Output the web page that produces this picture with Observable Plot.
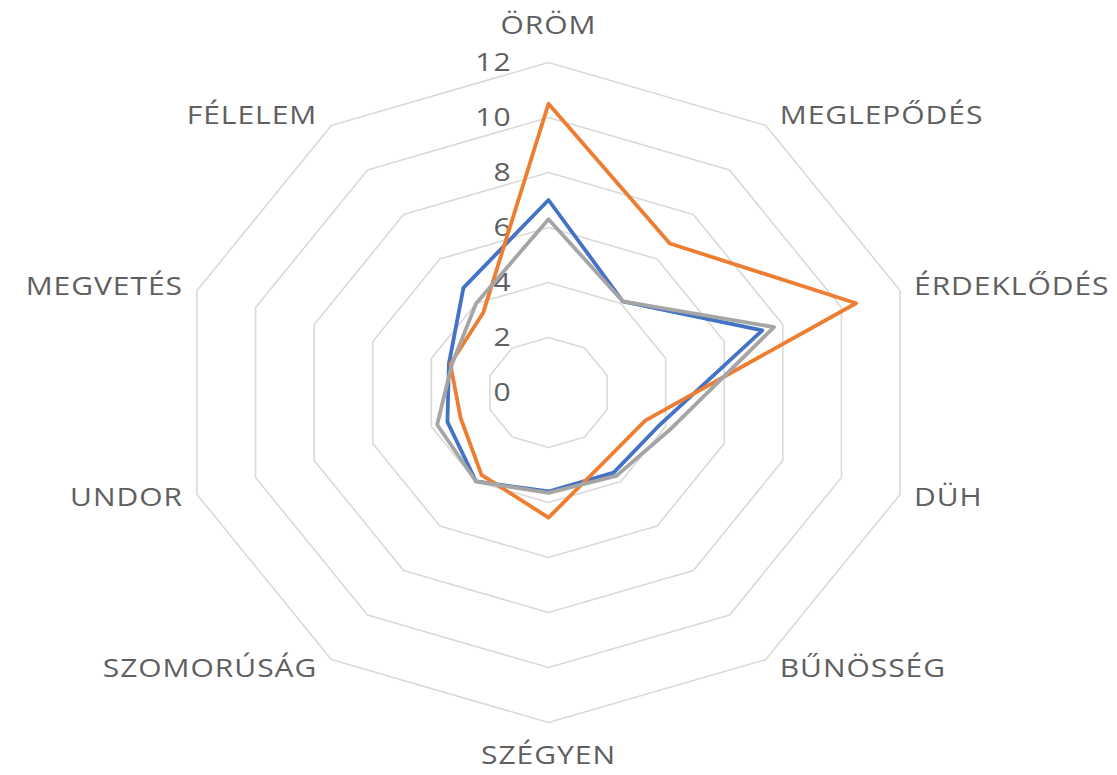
<!DOCTYPE html>
<html>
<head>
<meta charset="utf-8">
<script src="https://cdn.jsdelivr.net/npm/d3@7"></script>
<script src="https://cdn.jsdelivr.net/npm/@observablehq/plot@0.6"></script>
<style>
  html, body { margin: 0; padding: 0; background: #fff; }
  #chart svg text { letter-spacing: 0.8px; }
</style>
</head>
<body>
<div id="chart"></div>
<script>
const categories = ["ÖRÖM","MEGLEPŐDÉS","ÉRDEKLŐDÉS","DÜH","BŰNÖSSÉG","SZÉGYEN","SZOMORÚSÁG","UNDOR","MEGVETÉS","FÉLELEM"];
const series1Values = [7.0, 4.1, 7.3, 3.8, 3.6, 3.6, 4.0, 3.45, 3.4, 4.7];
const series2Values = [10.5, 6.7, 10.5, 3.3, 3.1, 4.55, 3.7, 3.0, 3.35, 3.6];
const series3Values = [6.3, 4.1, 7.7, 4.2, 3.75, 3.65, 4.0, 3.8, 3.3, 4.0];
const tickValues = [0, 2, 4, 6, 8, 10, 12];
const gridLevels = [2, 4, 6, 8, 10, 12];
const seriesNames = ["Sorozat1", "Sorozat2", "Sorozat3"];
const seriesColors = ["#4472C4", "#ED7D31", "#A5A5A5"];

const n = categories.length;
const ang = i => i * 2 * Math.PI / n;

const gridPts = gridLevels.flatMap(l => categories.map((c, i) => ({level: l, x: l * Math.sin(ang(i)), y: l * Math.cos(ang(i))})));
const allSeries = [series1Values, series2Values, series3Values];
const seriesPts = allSeries.flatMap((vals, s) => vals.map((v, i) => ({series: seriesNames[s], x: v * Math.sin(ang(i)), y: v * Math.cos(ang(i))})));

const labelMarks = categories.map((c, i) => {
  const s = Math.sin(ang(i)), co = Math.cos(ang(i));
  const side = Math.abs(s) < 0.01 ? 0 : (s > 0 ? 1 : -1);
  return Plot.text([c], {
    x: () => 12 * s,
    y: () => 12 * co,
    text: d => d,
    textAnchor: side === 0 ? "middle" : (side > 0 ? "start" : "end"),
    dx: side * 14,
    dy: side === 0 ? (co > 0 ? -37 : 33) : -co * 12,
    fontSize: 25,
    fill: "#5f5f5f"
  });
});

const chart = Plot.plot({
  width: 1117,
  height: 775,
  margin: 0,
  style: {fontFamily: "'Open Sans', sans-serif", background: "#fff"},
  x: {domain: [-12, 12], range: [178.4, 917.6], axis: null},
  y: {domain: [-12, 12], range: [722, 62], axis: null},
  color: {domain: seriesNames, range: seriesColors},
  marks: [
    Plot.line(gridPts, {x: "x", y: "y", z: "level", curve: "linear-closed", stroke: "#d9d9d9", strokeWidth: 1.6}),
    Plot.text(tickValues, {x: () => 0, y: d => d, text: d => String(d), textAnchor: "end", dx: -37, fontSize: 25, fill: "#5f5f5f"}),
    Plot.line(seriesPts, {x: "x", y: "y", z: "series", stroke: "series", curve: "linear-closed", strokeWidth: 3.8, strokeLinejoin: "round"}),
    ...labelMarks
  ]
});

// horizontal stretch of glyphs, as in the reference image
chart.querySelectorAll("text").forEach(t => {
  const tr = t.getAttribute("transform");
  if (tr) {
    t.setAttribute("transform", tr + " scale(1.2,1)");
  } else {
    const x = t.getAttribute("x") || 0, y = t.getAttribute("y") || 0;
    t.removeAttribute("x"); t.removeAttribute("y");
    t.setAttribute("transform", `translate(${x},${y}) scale(1.2,1)`);
  }
});
document.getElementById("chart").appendChild(chart);
</script>
</body>
</html>
